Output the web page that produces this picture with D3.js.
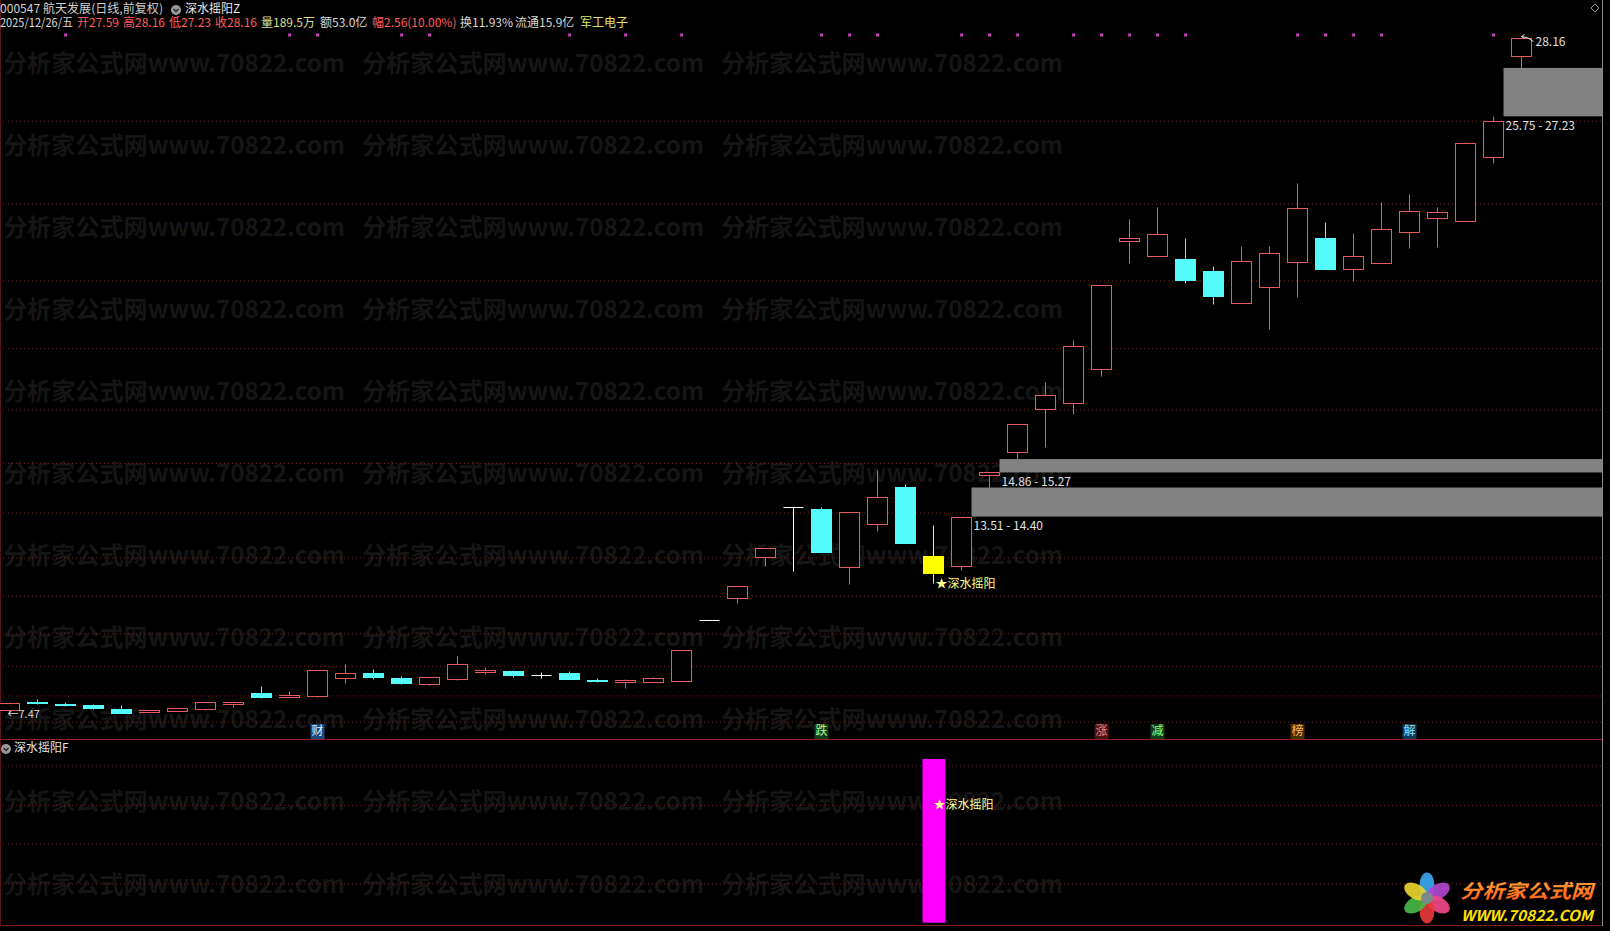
<!DOCTYPE html>
<html>
<head>
<meta charset="utf-8">
<script src="https://cdn.jsdelivr.net/npm/d3@7"></script>
<style>
html, body { margin: 0; padding: 0; background: #000; overflow: hidden; }
svg { display: block; }
text { font-family: "Noto Sans CJK SC", "Noto Sans", sans-serif; }
</style>
</head>
<body>
<svg id="chart" width="1610" height="931"></svg>
<script>
// trading days shown (2025)
const dates = [
  '10-13','10-14','10-15','10-16','10-17','10-20','10-21','10-22','10-23','10-24',
  '10-27','10-28','10-29','10-30','10-31','11-03','11-04','11-05','11-06','11-07',
  '11-10','11-11','11-12','11-13','11-14','11-17','11-18','11-19','11-20','11-21',
  '11-24','11-25','11-26','11-27','11-28','12-01','12-02','12-03','12-04','12-05',
  '12-08','12-09','12-10','12-11','12-12','12-15','12-16','12-17','12-18','12-19',
  '12-22','12-23','12-24','12-25','12-26'
]
const opens = [
  7.60, 7.85, 7.79, 7.75, 7.62, 7.54, 7.57, 7.63, 7.78, 8.12,
  8.00, 8.01, 8.58, 8.72, 8.57, 8.38, 8.53, 8.76, 8.79, 8.68,
  8.74, 8.52, 8.45, 8.45, 8.49, 10.36, 11.02, 12.26, 13.79, 13.74,
  11.97, 13.27, 14.41, 12.30, 12.01, 14.79, 15.49, 16.81, 16.99, 18.01,
  21.93, 21.49, 21.39, 21.02, 20.05, 20.52, 21.29, 22.02, 21.07, 21.25,
  22.20, 22.63, 22.56, 24.50, 27.59
]
const highs = [
  7.85, 7.92, 7.83, 7.78, 7.74, 7.60, 7.66, 7.85, 7.88, 8.33,
  8.17, 8.82, 8.99, 8.84, 8.63, 8.60, 9.25, 8.91, 8.83, 8.76,
  8.80, 8.57, 8.55, 8.60, 9.42, 10.36, 11.40, 12.54, 13.79, 13.80,
  13.64, 14.93, 14.51, 13.24, 13.51, 14.86, 16.35, 17.62, 18.91, 20.59,
  22.60, 22.98, 22.02, 21.16, 21.77, 21.80, 23.71, 22.52, 22.18, 23.13,
  23.37, 22.97, 24.96, 25.75, 28.16
]
const lows = [
  7.47, 7.78, 7.71, 7.63, 7.50, 7.53, 7.56, 7.60, 7.70, 7.97,
  7.97, 8.00, 8.43, 8.54, 8.38, 8.37, 8.52, 8.71, 8.62, 8.58,
  8.55, 8.44, 8.27, 8.44, 8.48, 10.36, 10.88, 12.01, 11.84, 12.44,
  11.46, 13.08, 12.71, 11.47, 11.88, 14.40, 15.27, 15.65, 16.66, 17.82,
  21.27, 21.49, 20.66, 20.01, 20.05, 19.24, 20.23, 21.09, 20.72, 21.25,
  21.72, 21.76, 22.56, 24.33, 27.23
]
const closes = [
  7.80, 7.84, 7.78, 7.67, 7.51, 7.59, 7.65, 7.84, 7.85, 8.00,
  8.05, 8.82, 8.74, 8.61, 8.41, 8.59, 9.00, 8.82, 8.67, 8.68,
  8.55, 8.50, 8.51, 8.56, 9.42, 10.36, 11.40, 12.54, 13.79, 12.44,
  13.64, 14.10, 12.71, 11.79, 13.51, 14.86, 16.35, 17.22, 18.72, 20.59,
  22.02, 22.14, 20.75, 20.25, 21.32, 21.56, 22.94, 21.09, 21.47, 22.29,
  22.84, 22.81, 24.92, 25.60, 28.16
]

// horizontal grid levels of the price pane
const gridPrices = [25.61, 23.08, 20.73, 18.66, 16.79, 15.15, 13.63, 12.26, 11.08, 9.94, 8.94, 8.04, 7.24]

// 深水摇阳 signal
const signalDates = ['11-27']
const signalValues = [1]
const signalGrid = [0.24, 0.48, 0.72, 0.96]

// gaps: start day (gap opens after it), lower / upper edge
const gapDays = ['11-28', '12-01', '12-25']
const gapLows = [13.51, 14.86, 25.75]
const gapHighs = [14.40, 15.27, 27.23]

// marker dots in the top row
const dotDays = ['10-15','10-27','10-28','10-31','11-03','11-10','11-12','11-14','11-21','11-24',
  '11-25','11-28','12-01','12-02','12-04','12-05','12-08','12-09','12-10','12-16',
  '12-17','12-18','12-19','12-25']

// info events under the candles
const eventDays = ['10-28', '11-21', '12-05', '12-09', '12-16', '12-22']
const eventLabels = ['财', '跌', '涨', '减', '榜', '解']
const eventColors = ['#e0f0ff', '#a8ff8c', '#ff7a7a', '#8cff7c', '#ffb848', '#8ce0ff']
const eventBg = ['#1a4a80', '#143c1c', '#4a1414', '#143c1c', '#4a3008', '#123a58']

// quote line: text, colour, x
const header2 = [
  ['2025/12/26/五', '#d8d8d8', 0],
  ['开27.59', '#ff5c5c', 77],
  ['高28.16', '#ff5c5c', 123],
  ['低27.23', '#ff5c5c', 169],
  ['收28.16', '#ff5c5c', 215],
  ['量189.5万', '#dcdc8c', 261],
  ['额53.0亿', '#d8d8d8', 320],
  ['幅2.56(10.00%)', '#ff5c5c', 372],
  ['换11.93%', '#d8d8d8', 460],
  ['流通15.9亿', '#d8d8d8', 515],
  ['军工电子', '#e0e070', 580]
]

const data = dates.map((d, i) => ({ date: d, o: opens[i], h: highs[i], l: lows[i], c: closes[i] }))

const W = 1610, H = 931
const right = 1602
const svg = d3.select('#chart')

svg.append('rect').attr('width', W).attr('height', H).attr('fill', '#000')

// watermark
const wm = svg.append('g')
for (let r = 0; r < 11; r++) {
  for (let c = 0; c < 3; c++) {
    wm.append('text')
      .attr('x', 3 + 359 * c)
      .attr('y', 65 + 82.1 * r)
      .attr('dominant-baseline', 'middle')
      .attr('font-size', 24)
      .attr('font-weight', 'bold')
      .attr('fill', '#151515')
      .attr('textLength', 342)
      .attr('lengthAdjust', 'spacingAndGlyphs')
      .text('分析家公式网www.70822.com')
  }
}

const x = d3.scaleBand().domain(dates).range([-4.5, 1535.5]).paddingInner(0.2857).paddingOuter(0.1428)
const bw = x.bandwidth()
const cx = d => x(d) + bw / 2
const y = d3.scaleLinear().domain([7.29, 28.39]).range([720, 30])
const py = v => Math.round(y(v)) + 0.5

// grid
const grid = svg.append('g')
  .call(d3.axisLeft(y).tickValues(gridPrices).tickSize(-right).tickFormat(''))
grid.select('.domain').remove()
grid.selectAll('line').attr('stroke', '#6e2424').attr('stroke-dasharray', '1,3')

// panel frame
svg.append('line').attr('x1', 0).attr('x2', right).attr('y1', 739.5).attr('y2', 739.5).attr('stroke', '#a02020')
svg.append('line').attr('x1', 0).attr('x2', right).attr('y1', 925.5).attr('y2', 925.5).attr('stroke', '#7a1a1a')
svg.append('line').attr('x1', 0.5).attr('x2', 0.5).attr('y1', 0).attr('y2', 926).attr('stroke', '#5a1515')
svg.append('line').attr('x1', right + 0.5).attr('x2', right + 0.5).attr('y1', 0).attr('y2', 926).attr('stroke', '#8a8a8a')

// gaps
const gaps = svg.append('g')
gapDays.forEach((d, i) => {
  const x0 = x(d) + bw
  gaps.append('rect')
    .attr('x', x0).attr('y', y(gapHighs[i]))
    .attr('width', right - x0).attr('height', y(gapLows[i]) - y(gapHighs[i]))
    .attr('fill', '#828282')
  gaps.append('text')
    .attr('x', x0 + 2).attr('y', y(gapLows[i]) + 10)
    .attr('dominant-baseline', 'middle')
    .attr('font-size', 12).attr('fill', '#e0e0e0')
    .text(`${gapLows[i].toFixed(2)} - ${gapHighs[i].toFixed(2)}`)
})

// candles
const upC = '#e85a5a', downC = '#54fcfc', flatC = '#ffffff'
const candles = svg.append('g').selectAll('g').data(data).enter().append('g')
candles.each(function (d) {
  const g = d3.select(this)
  const sig = signalDates.includes(d.date)
  let col = d.c > d.o ? upC : d.c < d.o ? downC : flatC
  if (sig) col = '#ffff00'
  const top = py(Math.max(d.o, d.c)), bot = py(Math.min(d.o, d.c))
  g.append('line')
    .attr('x1', cx(d.date)).attr('x2', cx(d.date))
    .attr('y1', py(d.h)).attr('y2', py(d.l))
    .attr('stroke', col)
  if (d.c === d.o) {
    g.append('line')
      .attr('x1', x(d.date)).attr('x2', x(d.date) + bw)
      .attr('y1', top).attr('y2', top)
      .attr('stroke', col)
  } else {
    g.append('rect')
      .attr('x', x(d.date)).attr('y', top)
      .attr('width', bw).attr('height', Math.max(1, bot - top))
      .attr('fill', (d.c > d.o && !sig) ? '#000' : col)
      .attr('stroke', col)
  }
})

// low / high marks
const lowI = d3.minIndex(lows), highI = d3.maxIndex(highs)
svg.append('text')
  .attr('x', cx(dates[lowI]) - 2).attr('y', y(lows[lowI]) + 1)
  .attr('dominant-baseline', 'middle')
  .attr('font-size', 11).attr('fill', '#d8d8d8')
  .text('←' + lows[lowI].toFixed(2))
const hx = cx(dates[highI]), hy = y(highs[highI])
svg.append('path')
  .attr('d', `M${hx},${hy - 1} q6,0 12,5 M${hx},${hy - 1} l3,-2 M${hx},${hy - 1} l3,2`)
  .attr('fill', 'none').attr('stroke', '#e0e0e0')
svg.append('text')
  .attr('x', hx + 14).attr('y', hy + 5)
  .attr('dominant-baseline', 'middle')
  .attr('font-size', 12).attr('fill', '#e0e0e0')
  .text(highs[highI].toFixed(2))

// signal text on the candle
signalDates.forEach(d => {
  const dd = data.find(e => e.date === d)
  svg.append('text')
    .attr('x', cx(d) + 2).attr('y', y(dd.l) + 1)
    .attr('dominant-baseline', 'middle')
    .attr('font-size', 12).attr('fill', '#ffff8a')
    .text('★深水摇阳')
})

// top-row dots
svg.append('g').selectAll('rect').data(dotDays).enter().append('rect')
  .attr('x', d => cx(d) - 1.5).attr('y', 33.5)
  .attr('width', 3).attr('height', 3)
  .attr('fill', '#c23cc2')

// events
const ev = svg.append('g')
eventDays.forEach((d, i) => {
  ev.append('rect')
    .attr('x', cx(d) - 7).attr('y', 724).attr('width', 14).attr('height', 15)
    .attr('fill', eventBg[i])
  ev.append('text')
    .attr('x', cx(d)).attr('y', 732)
    .attr('text-anchor', 'middle').attr('dominant-baseline', 'middle')
    .attr('font-size', 12).attr('fill', eventColors[i])
    .text(eventLabels[i])
})

// lower pane
const y2 = d3.scaleLinear().domain([0, 1]).range([922.7, 759])
const grid2 = svg.append('g')
  .call(d3.axisLeft(y2).tickValues(signalGrid).tickSize(-right).tickFormat(''))
grid2.select('.domain').remove()
grid2.selectAll('line').attr('stroke', '#6e2424').attr('stroke-dasharray', '1,3')

svg.append('g').selectAll('rect').data(signalDates).enter().append('rect')
  .attr('x', d => x(d) - 1).attr('width', bw + 3)
  .attr('y', (d, i) => y2(signalValues[i]))
  .attr('height', (d, i) => y2(0) - y2(signalValues[i]))
  .attr('fill', '#ff00ff')
signalDates.forEach(d => {
  svg.append('text')
    .attr('x', cx(d)).attr('y', 806)
    .attr('dominant-baseline', 'middle')
    .attr('font-size', 12).attr('fill', '#ffff9a')
    .text('★深水摇阳')
})

// pane titles
const icon = (gx, gy) => {
  svg.append('circle').attr('cx', gx).attr('cy', gy).attr('r', 5).attr('fill', '#9a9a9a')
  svg.append('path').attr('d', `M${gx - 2.5},${gy - 1} L${gx},${gy + 1.5} L${gx + 2.5},${gy - 1}`)
    .attr('fill', 'none').attr('stroke', '#222').attr('stroke-width', 1.3)
}
svg.append('text').attr('x', 0).attr('y', 10).attr('dominant-baseline', 'middle')
  .attr('font-size', 12).attr('fill', '#cfcfcf')
  .attr('textLength', 163).attr('lengthAdjust', 'spacingAndGlyphs')
  .text('000547 航天发展(日线,前复权)')
icon(176, 10)
svg.append('text').attr('x', 185).attr('y', 10).attr('dominant-baseline', 'middle')
  .attr('font-size', 12).attr('fill', '#e8e8e8').text('深水摇阳Z')
header2.forEach(([t, c, hx2], i) => {
  const tx = svg.append('text').attr('x', hx2).attr('y', 24).attr('dominant-baseline', 'middle')
    .attr('font-size', 12).attr('fill', c).text(t)
  if (i === 0) tx.attr('textLength', 73).attr('lengthAdjust', 'spacingAndGlyphs')
})
icon(6, 749)
svg.append('text').attr('x', 14).attr('y', 748.5).attr('dominant-baseline', 'middle')
  .attr('font-size', 12).attr('fill', '#e0e0e0').text('深水摇阳F')
svg.append('path').attr('d', 'M1595,4 l4,4 l-4,4 l-4,-4 z').attr('fill', 'none').attr('stroke', '#9a9a9a')

// logo
const defs = svg.append('defs')
const lg = defs.append('linearGradient').attr('id', 'lg').attr('x1', 0).attr('x2', 0).attr('y1', 0).attr('y2', 1)
lg.append('stop').attr('offset', '0%').attr('stop-color', '#ffb040')
lg.append('stop').attr('offset', '100%').attr('stop-color', '#ff5a10')
const logo = svg.append('g').attr('transform', 'translate(1427,898)')
const petals = ['#3aa8f0', '#b048d0', '#f04888', '#e83838', '#48b848', '#e8d030']
petals.forEach((c, i) => {
  logo.append('ellipse')
    .attr('cx', 0).attr('cy', -13).attr('rx', 7.5).attr('ry', 12.5)
    .attr('fill', c).attr('opacity', 0.92)
    .attr('transform', `rotate(${i * 60})`)
})
logo.append('circle').attr('r', 6).attr('fill', '#7a8a8a')
svg.append('text').attr('x', 1460).attr('y', 898).attr('font-size', 19).attr('font-weight', 'bold')
  .attr('font-style', 'italic').attr('fill', 'url(#lg)')
  .attr('textLength', 133).attr('lengthAdjust', 'spacingAndGlyphs').text('分析家公式网')
svg.append('text').attr('x', 1461).attr('y', 921).attr('font-size', 15).attr('font-weight', 'bold')
  .attr('font-style', 'italic').attr('fill', '#ffe000')
  .attr('font-family', 'Liberation Sans, Arial, sans-serif')
  .attr('textLength', 132).attr('lengthAdjust', 'spacingAndGlyphs').text('WWW.70822.COM')
</script>
</body>
</html>
